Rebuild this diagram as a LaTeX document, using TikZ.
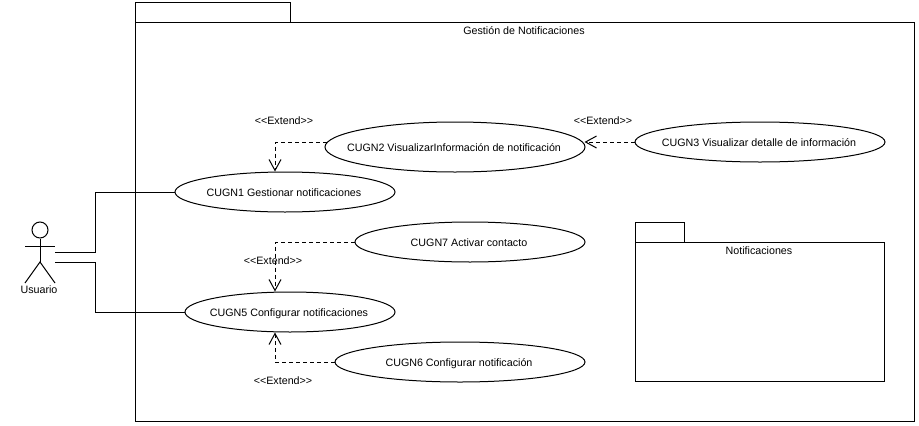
\documentclass[tikz,border=0pt]{standalone}
\usepackage{fontspec}
\setmainfont{Liberation Sans}
\usetikzlibrary{shapes.geometric,arrows.meta,calc}
\newcommand{\uctext}[1]{\makebox[0pt]{\kern-2pt\raisebox{-4pt}[0pt][0pt]{#1}}}
\tikzset{
  line/.style={draw=black,line width=1pt},
  usecase/.style={line,ellipse,fill=white,inner sep=0pt,font=\fontsize{10.7}{12}\selectfont},
  pkg/.style={line,rectangle,anchor=north west,inner sep=0pt},
  txt/.style={inner sep=0pt,font=\fontsize{10.7}{12}\selectfont},
  assoc/.style={line},
  ext/.style={line,dashed,dash pattern=on 4pt off 3pt,-{Straight Barb[length=11pt,width=12pt,line width=1pt]}}
}
\begin{document}
\begin{tikzpicture}[x=1pt,y=-1pt]
\useasboundingbox[fill=white] (0,0) rectangle (919,426);
% packages
\node[pkg,minimum width=155pt,minimum height=20pt] (maintab) at (135,2) {};
\node[pkg,minimum width=779pt,minimum height=399pt] (main) at (135,22) {};
\node[txt] (maintitle) at (524,30.5) {Gestión de Notificaciones};
\node[pkg,minimum width=49pt,minimum height=20pt] (subtab) at (635,222) {};
\node[pkg,minimum width=249pt,minimum height=139pt] (sub) at (635,242) {};
\node[txt] (subtitle) at (759,250.5) {Notificaciones};
% actor
\node[line,circle,minimum size=16pt,inner sep=0pt] (head) at (40,230) {};
\coordinate (arml) at (25,246);
\coordinate (armr) at (55,246);
\coordinate (hip) at (40,262);
\coordinate (legl) at (25,283);
\coordinate (legr) at (55,283);
\coordinate (a1) at (55,252);
\coordinate (a2) at (55,262);
\draw[line] (head.south) -- (hip);
\draw[line] (arml) -- (armr);
\draw[line] (legl) -- (hip) -- (legr);
\node[txt] (actor) at (39,289.5) {Usuario};
% use cases
\node[usecase,minimum width=220pt,minimum height=40pt] (c1) at (285,192) {\uctext{CUGN1 Gestionar notificaciones}};
\node[usecase,minimum width=260pt,minimum height=50pt] (c2) at (455,147) {\uctext{CUGN2 VisualizarInformación de notificación}};
\node[usecase,minimum width=250pt,minimum height=40pt] (c3) at (760,142) {\uctext{CUGN3 Visualizar detalle de información}};
\node[usecase,minimum width=230pt,minimum height=40pt] (c7) at (470,242) {\uctext{CUGN7 Activar contacto}};
\node[usecase,minimum width=210pt,minimum height=40pt] (c5) at (290,312) {\uctext{CUGN5 Configurar notificaciones}};
\node[usecase,minimum width=250pt,minimum height=40pt] (c6) at (460,362) {\uctext{CUGN6 Configurar notificación}};
% associations
\draw[assoc] (a1) -- (95,252) |- (c1.west);
\draw[assoc] (a2) -- (95,262) |- (c5.west);
% extends
\draw[ext] ($(c2.west)+(2,-5)$) -| ($(c1.north)+(-10,0)$);
\draw[ext] (c3.west) -- ($(c2.east)+(-1,-5)$);
\draw[ext] (c7.west) -| ($(c5.north)+(-15,0)$);
\draw[ext] (c6.west) -| ($(c5.south)+(-15,0)$);
% labels
\node[txt] (l1) at (284,120.5) {<{}<Extend>{}>};
\node[txt] (l2) at (603,120.5) {<{}<Extend>{}>};
\node[txt] (l3) at (273,260.5) {<{}<Extend>{}>};
\node[txt] (l4) at (283,380.5) {<{}<Extend>{}>};
\end{tikzpicture}
\end{document}
